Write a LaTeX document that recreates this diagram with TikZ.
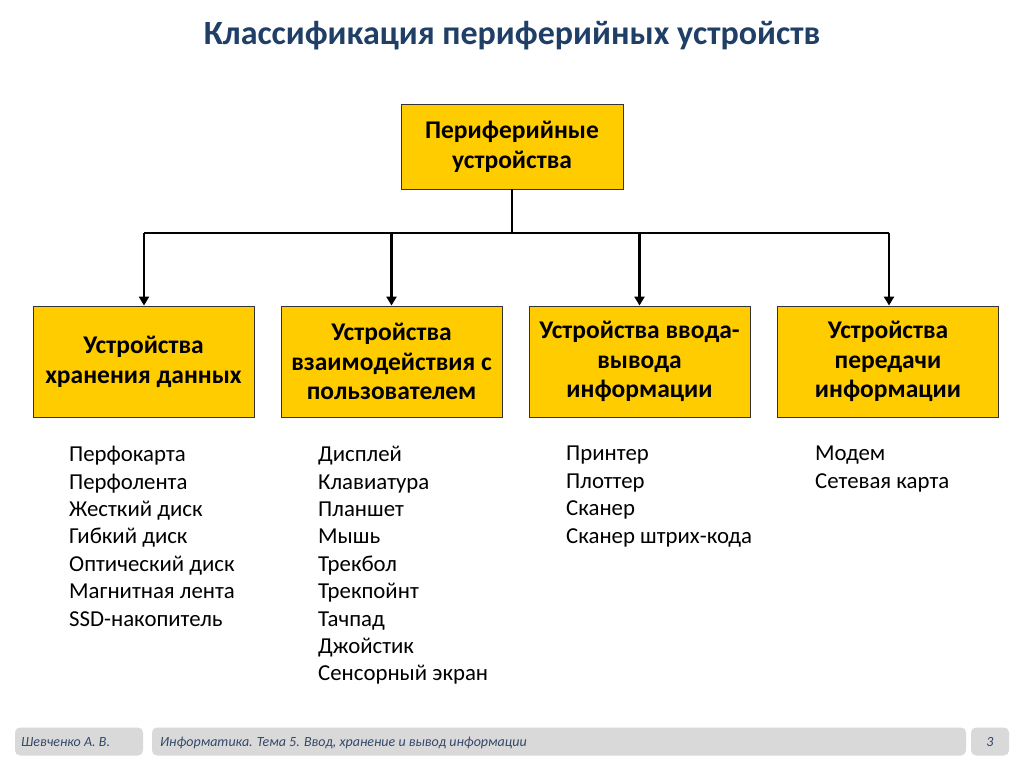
\documentclass[tikz,border=0pt]{standalone}
\usepackage{fontspec}
\setmainfont{Carlito}
\usetikzlibrary{arrows.meta}
\definecolor{boxyellow}{HTML}{FFCC00}
\definecolor{titleblue}{HTML}{1F3F66}
\definecolor{footgray}{HTML}{D9D9D9}
\definecolor{foottext}{HTML}{34486A}
\tikzset{
  x=1pt,y=-1pt,
  catbox/.style={draw=black!80,line width=0.9pt,fill=boxyellow,minimum width=221pt,minimum height=111pt,align=center,inner sep=2pt,font=\fontsize{25.5}{29.8}\selectfont\bfseries},
  topbox/.style={catbox,minimum width=222pt,minimum height=85pt},
  conn/.style={line width=2.4pt,black},
  arr/.style={conn,-{Triangle[length=9pt,width=10pt]}},
  itemlist/.style={anchor=north west,align=left,inner sep=0pt,font=\fontsize{22.8}{27.4}\selectfont},
  footbox/.style={fill=footgray,rounded corners=5pt,minimum height=28pt,inner sep=0pt,font=\fontsize{14}{16}\selectfont\itshape,text=foottext},
  foottxt/.style={anchor=west,inner sep=0pt,font=\fontsize{14}{16}\selectfont\itshape,text=foottext},
}
\begin{document}
\begin{tikzpicture}
\useasboundingbox (0,0) rectangle (1024,767);
\fill[white] (0,0) rectangle (1024,767);
\node[font=\fontsize{34}{38}\selectfont\bfseries,text=titleblue] (title) at (512,36) {Классификация периферийных устройств};
\node[topbox] (top) at (512,146.5) {Периферийные\\устройства};
\node[catbox] (b1) at (143.5,361.5) {Устройства\\хранения данных};
\node[catbox] (b2) at (391.5,361.5) {Устройства\\взаимодействия с\\пользователем};
\node[catbox] (b3) at (639.5,361.5) {Устройства ввода-\\вывода\\информации};
\node[catbox] (b4) at (888,361.5) {Устройства\\передачи\\информации};
\coordinate (j) at (512,233);
\coordinate (h1) at (144,233);
\coordinate (h4) at (889,233);
\draw[conn] (top.south) -- (j);
\draw[conn] (h1) -- (h4);
\draw[arr] (h1) -- (h1 |- b1.north);
\draw[arr] (j -| b2.north) -- (b2.north);
\draw[arr] (j -| b3.north) -- (b3.north);
\draw[arr] (h4) -- (h4 |- b4.north);
\node[itemlist] (l1) at (69,446) {Перфокарта\\Перфолента\\Жесткий диск\\Гибкий диск\\Оптический диск\\Магнитная лента\\SSD-накопитель};
\node[itemlist] (l2) at (318,446) {Дисплей\\Клавиатура\\Планшет\\Мышь\\Трекбол\\Трекпойнт\\Тачпад\\Джойстик\\Сенсорный экран};
\node[itemlist] (l3) at (566,446) {Принтер\\Плоттер\\Сканер\\Сканер штрих-кода};
\node[itemlist] (l4) at (815,446) {Модем\\Сетевая карта};
\node[footbox,minimum width=128pt] (f1) at (79,741.5) {};
\node[foottxt] (f1t) at (21,742.5) {Шевченко А. В.};
\node[footbox,minimum width=814pt] (f2) at (559,741.5) {};
\node[foottxt] (f2t) at (160,742.5) {Информатика. Тема 5. Ввод, хранение и вывод информации};
\node[footbox,minimum width=38pt] (f3) at (990,741.5) {3};
\end{tikzpicture}
\end{document}
